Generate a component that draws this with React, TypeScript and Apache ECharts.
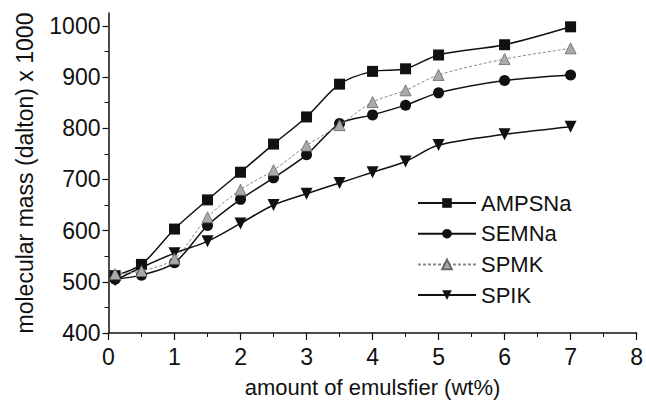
import React, { useEffect, useRef } from "react";
import * as echarts from "echarts";

const xValues = [0.1, 0.5, 1, 1.5, 2, 2.5, 3, 3.5, 4, 4.5, 5, 6, 7];
const ampsna = [512, 534, 603, 660, 714, 769, 822, 886, 911, 916, 943, 963, 998];
const semna = [505, 513, 537, 610, 661, 703, 748, 809, 826, 845, 869, 893, 904];
const spmk = [515, 521, 545, 626, 680, 718, 766, 806, 851, 874, 904, 935, 956];
const spik = [503, 528, 556, 579, 614, 650, 672, 693, 714, 735, 767, 788, 803];
const yTicks = [400, 500, 600, 700, 800, 900, 1000];

const FONT = "'Liberation Sans', Arial, sans-serif";

export default function App() {
  const ref = useRef<HTMLDivElement>(null);
  useEffect(() => {
    const chart = echarts.init(ref.current!, undefined, { renderer: "svg" });
    const pts = (arr: number[]) => xValues.map((x, i) => [x, arr[i]]);
    const mk = (name: string, data: number[], symbol: string, color: string, lineColor: string, dashed: boolean, size: number) => ({
      name,
      type: "line",
      data: pts(data),
      smooth: 0.3,
      symbol,
      symbolSize: size,
      showSymbol: true,
      lineStyle: { color: lineColor, width: dashed ? 1 : 1.5, type: dashed ? [3, 2] : "solid" },
      itemStyle: { color, borderColor: dashed ? "#666" : color, borderWidth: dashed ? 0.8 : 0 },
      z: dashed ? 3 : 2,
    });
    chart.setOption({
      animation: false,
      backgroundColor: "#fff",
      textStyle: { fontFamily: FONT },
      grid: { left: 108.5, right: 7.3, top: 13, bottom: 66.3 },
      legend: {
        orient: "vertical",
        left: 412,
        top: 187,
        itemWidth: 58,
        itemHeight: 12,
        itemGap: 8.7,
        textStyle: { fontSize: 22, lineHeight: 22, color: "#111", fontFamily: FONT },
        data: ["AMPSNa", "SEMNa", "SPMK", "SPIK"],
      },
      xAxis: {
        type: "value",
        min: 0,
        max: 8,
        interval: 1,
        name: "amount of emulsfier (wt%)",
        nameLocation: "middle",
        nameGap: 43,
        nameTextStyle: { fontSize: 22, color: "#111", fontFamily: FONT },
        axisLine: { lineStyle: { color: "#111", width: 1.5 } },
        axisTick: { length: 7, lineStyle: { color: "#111", width: 1.2 } },
        minorTick: { show: true, splitNumber: 2, length: 4, lineStyle: { color: "#111", width: 1 } },
        axisLabel: { fontSize: 23, color: "#111", margin: 12, fontFamily: FONT },
        splitLine: { show: false },
      },
      yAxis: {
        type: "value",
        min: 400,
        max: 1025,
        interval: 100,
        name: "molecular mass (dalton) x 1000",
        nameLocation: "middle",
        nameGap: 72,
        nameTextStyle: { fontSize: 23, color: "#111", fontFamily: FONT },
        axisLine: { show: true, lineStyle: { color: "#111", width: 1.5 } },
        axisTick: { show: true, length: 6, customValues: yTicks, lineStyle: { color: "#111", width: 1.2 } },
        minorTick: { show: true, splitNumber: 2, length: 4, lineStyle: { color: "#111", width: 1 } },
        axisLabel: {
          fontSize: 23,
          color: "#111",
          margin: 8,
          customValues: yTicks,
          fontFamily: FONT,
          formatter: (v: number) => String(v),
        },
        splitLine: { show: false },
      },
      series: [
        mk("AMPSNa", ampsna, "rect", "#111", "#111", false, 11),
        mk("SEMNa", semna, "circle", "#111", "#111", false, 11),
        mk("SPMK", spmk, "triangle", "#aaa", "#888", true, 11),
        mk("SPIK", spik, "path://M0,0 L10,0 L5,9 Z", "#111", "#111", false, 12),
      ],
    });
    return () => chart.dispose();
  }, []);
  return <div ref={ref} style={{ width: 646, height: 403, position: "absolute", left: 0, top: 0 }} />;
}
